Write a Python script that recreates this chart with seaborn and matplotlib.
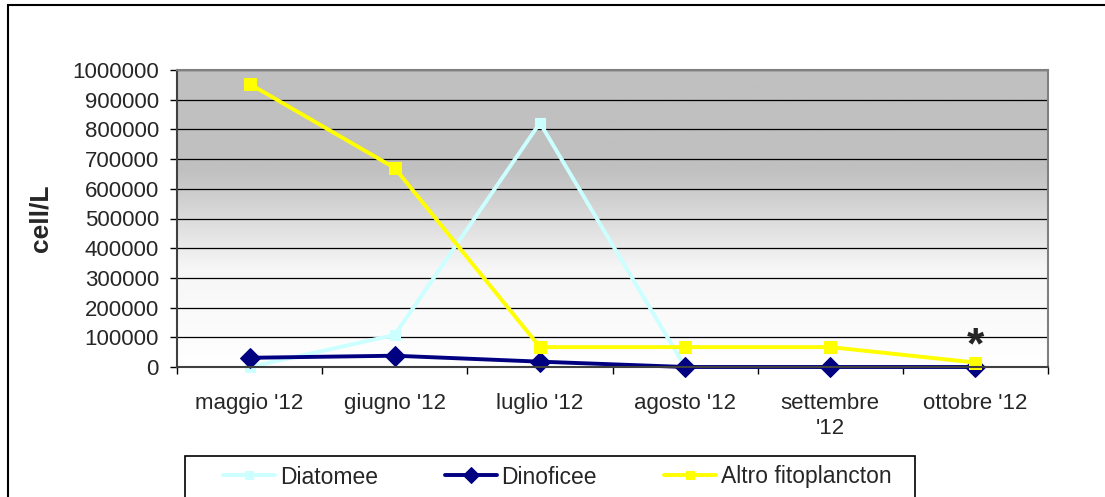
import numpy as np
import pandas as pd
import matplotlib
matplotlib.use("Agg")
import matplotlib.pyplot as plt
from matplotlib.colors import LinearSegmentedColormap
from matplotlib.patches import Rectangle
import seaborn as sns

months = ["maggio '12", "giugno '12", "luglio '12", "agosto '12", "settembre\n'12", "ottobre '12"]
diatomee = [0, 108000, 822000, 0, 0, 0]
dinoficee = [31000, 38000, 18000, 0, 0, 0]
altro = [953000, 670000, 67000, 67000, 67000, 15000]
y_ticks = list(range(0, 1000001, 100000))

series = [
    ("Diatomee", diatomee, "#CCFFFF", "s", 7),
    ("Dinoficee", dinoficee, "#000080", "D", 10),
    ("Altro fitoplancton", altro, "#FFFF00", "s", 8),
]

sns.set_theme(style="white")
plt.rcParams['font.family'] = ['Liberation Sans', 'DejaVu Sans']

fig = plt.figure(figsize=(11.05, 4.97), dpi=100)
ax = fig.add_axes([177/1105, 1-367/497, (1048-177)/1105, (367-70)/497])

# gradient background, gray at top to white at bottom
grad = np.linspace(0, 1, 256).reshape(-1, 1)
cmap = LinearSegmentedColormap.from_list("bg", ["#FFFFFF", "#F6F6F6", "#C0C0C0", "#C0C0C0"])
ax.imshow(grad, extent=[0, 1, 0, 1], transform=ax.transAxes, aspect="auto",
          cmap=cmap, origin="lower", zorder=0)

pos = np.arange(len(months))
for name, vals, col, mk, ms in series:
    df = pd.DataFrame({"x": pos, "y": vals})
    sns.lineplot(data=df, x="x", y="y", ax=ax, color=col, lw=2.8, marker=mk,
                 markersize=ms, markeredgecolor=col, label=name, clip_on=False)

ax.set_xlim(-0.5, len(months) - 0.5)
ax.set_ylim(0, 1000000)
ax.set_yticks(y_ticks)
ax.set_yticklabels([str(v) for v in y_ticks])
ax.set_xticks(pos)
ax.set_xticklabels(months)
ax.set_xticks(np.arange(len(months) + 1) - 0.5, minor=True)
ax.tick_params(axis="x", which="major", length=0, pad=19, labelsize=16)
ax.tick_params(axis="x", which="minor", length=5, width=1, color="black", direction="out", bottom=True)
ax.tick_params(axis="y", length=5, width=1, color="black", direction="out", left=True, pad=8, labelsize=16)
ax.set_xlabel("")
ax.set_ylabel("cell/L", fontsize=19, fontweight="bold", labelpad=14)

ax.grid(axis="y", color="black", lw=0.9)
ax.grid(axis="x", visible=False)
ax.set_axisbelow(True)

for s in ["top", "right", "bottom"]:
    ax.spines[s].set_color("#808080")
    ax.spines[s].set_linewidth(1.5)
ax.spines["left"].set_color("#404040")
ax.spines["left"].set_linewidth(1.5)
ax.spines["bottom"].set_color("#404040")

ax.annotate("*", xy=(pos[-1], altro[-1]), xytext=(0, 11), textcoords="offset points",
            ha="center", va="center", fontsize=32, fontweight="bold")

# legend without its own frame; box drawn separately below
leg = ax.legend(loc="center left", bbox_to_anchor=(223/1105, 1-477/497), bbox_transform=fig.transFigure,
                ncol=3, fontsize=16.5, frameon=False,
                handlelength=2.27, handletextpad=0.22, columnspacing=2.9, borderpad=0,
                borderaxespad=0, markerscale=0.8)

fig.patches.append(Rectangle((185/1105, -0.2), (915-185)/1105, 0.2 + 1 - 456/497,
                             transform=fig.transFigure, fill=False, edgecolor="black", lw=1.2))
fig.patches.append(Rectangle((8/1105, -0.2), 1.2, 1.2 - 5/497, transform=fig.transFigure,
                             fill=False, edgecolor="black", lw=1.5))

fig.savefig("out.png", dpi=100)
